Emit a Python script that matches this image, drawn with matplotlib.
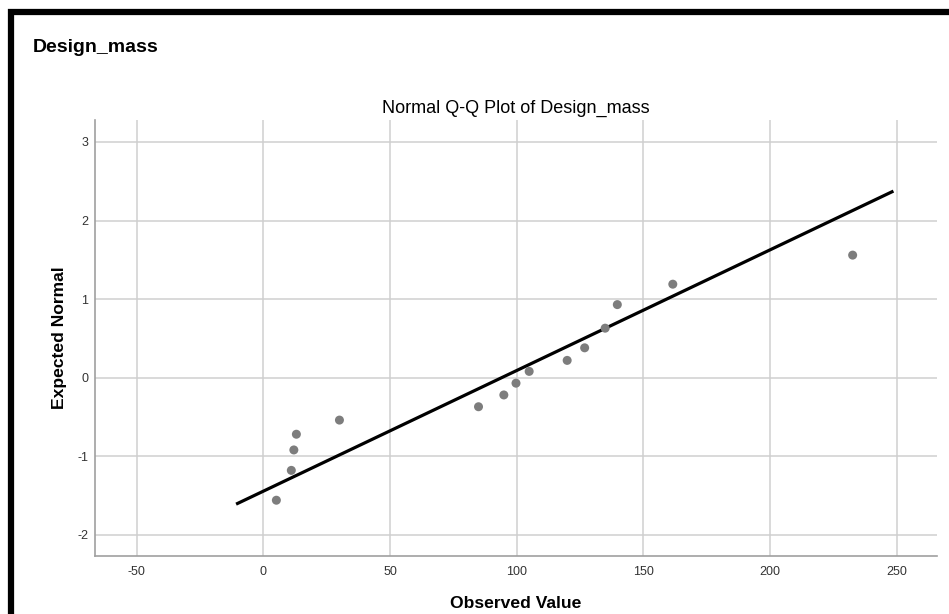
import matplotlib
matplotlib.use('Agg')
import matplotlib.pyplot as plt
from matplotlib.patches import Rectangle

plt.rcParams['axes.unicode_minus'] = False

observed = [5.1, 11.0, 12.0, 13.0, 30.0, 84.9, 94.9, 99.7, 104.9, 119.9, 126.8, 134.9, 139.7, 161.6, 232.6]
expected = [-1.56, -1.18, -0.92, -0.72, -0.54, -0.37, -0.22, -0.07, 0.08, 0.22, 0.38, 0.63, 0.93, 1.19, 1.56]

# reference line end points
line_x = [-10.8, 248.7]
line_y = [-1.61, 2.375]

xticks = [-50, 0, 50, 100, 150, 200, 250]
yticks = [-2, -1, 0, 1, 2, 3]

W, H = 949, 614
fig = plt.figure(figsize=(W / 100, H / 100), dpi=100)
fig.patch.set_facecolor('white')

# black frame at top and left of the output window
fig.add_artist(Rectangle((11 / W, -0.1), 1.2, (H - 12) / H + 0.1, transform=fig.transFigure,
                         fill=False, edgecolor='black', linewidth=4.5))

ax = fig.add_axes([95 / W, 1 - 556 / H, (937 - 95) / W, (556 - 120) / H])
ax.set_xlim(-66.5, 265.9)
ax.set_ylim(-2.27, 3.28)
ax.set_xticks(xticks)
ax.set_yticks(yticks)
ax.grid(True, color='#cfcfcf', linewidth=1.1)
ax.set_axisbelow(True)
for s in ['top', 'right']:
    ax.spines[s].set_visible(False)
for s in ['left', 'bottom']:
    ax.spines[s].set_color('#a0a0a0')
    ax.spines[s].set_linewidth(1.2)
ax.tick_params(axis='x', length=0, pad=7, labelsize=9, labelcolor='#333333')
ax.tick_params(axis='y', length=0, pad=5, labelsize=9, labelcolor='#333333')
for lab in ax.get_xticklabels() + ax.get_yticklabels():
    lab.set_family(['Liberation Sans Narrow', 'Liberation Sans', 'DejaVu Sans'])

ax.plot(line_x, line_y, color='black', linewidth=2.3, solid_capstyle='butt', zorder=3)
ax.scatter(observed, expected, s=42, color='#7d7d7d', edgecolors='none', zorder=4)

ax.set_title('Normal Q-Q Plot of Design_mass', fontsize=13, family=['Liberation Sans', 'DejaVu Sans'], pad=5)
ax.set_xlabel('Observed Value', fontsize=12.6, fontweight='bold', family=['Liberation Sans', 'DejaVu Sans'], labelpad=13)
ax.set_ylabel('Expected Normal', fontsize=12.6, fontweight='bold', family=['Liberation Sans', 'DejaVu Sans'], labelpad=7)

fig.text(33 / W, 1 - 47 / H, 'Design_mass', fontsize=14, fontweight='bold',
         family=['Liberation Sans', 'DejaVu Sans'], va='center', ha='left')

fig.savefig('out.png', dpi=100)
